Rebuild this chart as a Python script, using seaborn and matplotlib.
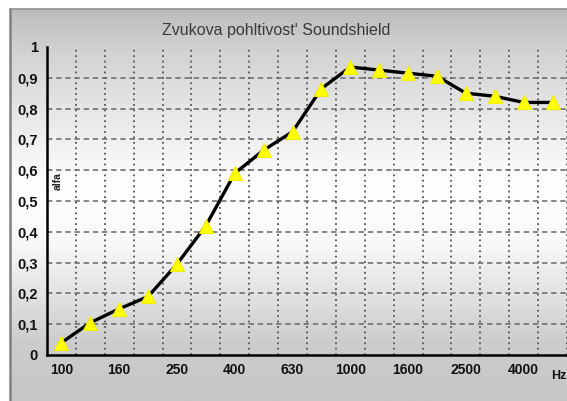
import numpy as np
import pandas as pd
import matplotlib
matplotlib.use("Agg")
import matplotlib.pyplot as plt
import seaborn as sns
from matplotlib.colors import LinearSegmentedColormap

# ── DATA ─────────────────────────────────────────────────────────
freqs = ["100", "125", "160", "200", "250", "315", "400", "500", "630",
         "800", "1000", "1250", "1600", "2000", "2500", "3150", "4000", "5000"]
alfa = [0.04, 0.105, 0.15, 0.19, 0.295, 0.42, 0.59, 0.665, 0.725,
        0.865, 0.935, 0.925, 0.915, 0.905, 0.85, 0.84, 0.82, 0.82]
shown_labels = ["100", "160", "250", "400", "630", "1000", "1600", "2500", "4000"]
y_ticks = [0, 0.1, 0.2, 0.3, 0.4, 0.5, 0.6, 0.7, 0.8, 0.9, 1.0]
y_ticklabels = ["0", "0,1", "0,2", "0,3", "0,4", "0,5", "0,6", "0,7", "0,8", "0,9", "1"]
title = "Zvukova pohltivost' Soundshield"

df = pd.DataFrame({"freq": freqs, "alfa": alfa})

sns.set_style("white")
plt.rcParams["font.family"] = ["Liberation Sans", "DejaVu Sans"]

W, H = 567, 401
fig = plt.figure(figsize=(W / 100, H / 100), dpi=100)
fig.patch.set_facecolor("white")

# ── background panel with vertical grey/white gradient ───────────
bg = fig.add_axes([10 / W, 0, (W - 10) / W, (H - 9) / H])
grad_cmap = LinearSegmentedColormap.from_list(
    "bg", [(0.0, "#bdbdbd"), (0.12, "#d4d4d4"), (0.45, "#ffffff"),
           (0.6, "#f8f8f8"), (0.85, "#cdcdcd"), (1.0, "#c6c6c6")])
grad = np.linspace(0, 1, 256).reshape(-1, 1)
bg.imshow(grad, cmap=grad_cmap, aspect="auto", extent=[0, 1, 0, 1], origin="upper")
bg.set_xlim(0, 1)
bg.set_ylim(0, 1)
bg.set_xticks([])
bg.set_yticks([])
for side in ["right", "bottom"]:
    bg.spines[side].set_visible(False)
bg.spines["left"].set_color("#808080")
bg.spines["left"].set_linewidth(1.8)
bg.spines["top"].set_color("#909090")
bg.spines["top"].set_linewidth(1.2)

# ── main plot ─────────────────────────────────────────────────────
step = 29.2
x0, y0, y1 = 47, 355, 47
ax = fig.add_axes([x0 / W, (H - y0) / H, (W - x0) / W, (y0 - y1) / H])
ax.set_facecolor("none")

sns.lineplot(data=df, x="freq", y="alfa", ax=ax, color="black", linewidth=2.4,
             marker="^", markersize=10.5, markerfacecolor="#ffff00",
             markeredgecolor="#f2ee00", markeredgewidth=0.8, sort=False, zorder=5)

n = len(freqs)
ax.set_xlim(-0.5, -0.5 + (W - x0) / step)
ax.set_ylim(0, 1)

# major x ticks = category centres (labels only), minor = boundaries
ax.set_xticks(range(n))
ax.set_xticklabels([f if f in shown_labels else "" for f in freqs])
ax.set_xticks(np.arange(n) + 0.5, minor=True)
ax.tick_params(axis="x", which="major", length=0, pad=6, labelsize=10)
ax.tick_params(axis="x", which="minor", length=7, width=1.5, direction="inout",
               color="black")
ax.set_yticks(y_ticks)
ax.set_yticklabels(y_ticklabels)
ax.tick_params(axis="y", length=9, width=1.5, direction="inout", pad=2,
               labelsize=10.5, color="black")
for lab in ax.get_xticklabels() + ax.get_yticklabels():
    lab.set_fontweight("bold")
    lab.set_color("#111111")

ax.grid(False)
for k in np.arange(n) + 0.5:
    ax.axvline(k, color="#555555", linestyle=(0, (1, 2)), linewidth=1.3, zorder=1)
for v in y_ticks[1:-1]:
    ax.axhline(v, color="#666666", linestyle=(0, (3.5, 2.5)), linewidth=1.1, zorder=1)

for side in ["top", "right"]:
    ax.spines[side].set_visible(False)
for side in ["left", "bottom"]:
    ax.spines[side].set_color("black")
    ax.spines[side].set_linewidth(1.8)

ax.set_xlabel("")
ax.set_ylabel("")
ax.text(0.02, 0.565, "alfa", transform=ax.transAxes, rotation=90, fontsize=7.5,
        fontweight="bold", color="#222222", ha="center", va="center")

fig.text(276 / W, 1 - 30 / H, title, fontsize=11.5, color="#3a3a3a",
         ha="center", va="center")
fig.text(551 / W, 1 - 376 / H, "Hz", fontsize=9, fontweight="bold",
         color="#111111", ha="left", va="center")

fig.savefig("out.png", dpi=100)
